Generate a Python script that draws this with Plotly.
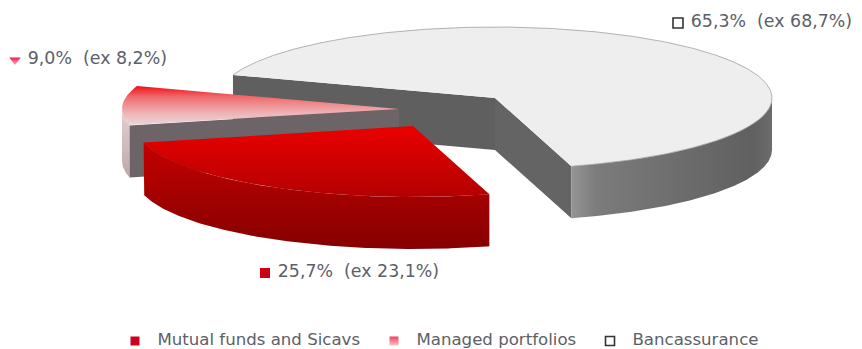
import numpy as np
import plotly.graph_objects as go

# Distribution by channel, current and previous period (%)
categories = ["Mutual funds and Sicavs", "Managed portfolios", "Bancassurance"]
current = [25.7, 9.0, 65.3]
previous = [23.1, 8.2, 68.7]

# Ellipse geometry of the tilted pie, in pixels of the plotting area
RX, RY, DEPTH = 277, 71, 52
FIRST_ANGLE = -74  # where the first slice begins; slices run clockwise
CENTERS = {
    "Mutual funds and Sicavs": (413, 126),
    "Managed portfolios": (399, 109),
    "Bancassurance": (495, 98),
}


def rim(center, a0, a1, drop=0):
    """Points along the ellipse between two angles in degrees."""
    steps = max(int(abs(a1 - a0)) * 2, 2)
    t = np.radians(np.linspace(a0, a1, steps))
    return center[0] + RX * np.cos(t), center[1] - RY * np.sin(t) + drop


def poly(x, y, gradient=None, fill=None):
    kw = dict(
        x=list(x), y=list(y), mode="lines", fill="toself",
        line=dict(width=0, color="rgba(0,0,0,0)"),
        hoverinfo="skip", showlegend=False,
    )
    if gradient:
        kw["fillgradient"] = dict(type=gradient[0], colorscale=gradient[1])
    else:
        kw["fillcolor"] = fill
    return go.Scatter(**kw)


def outer_wall(center, a0, a1, gradient):
    x, y = rim(center, a0, a1)
    xb, yb = rim(center, a0, a1, DEPTH)
    return poly(np.r_[x, xb[::-1]], np.r_[y, yb[::-1]], gradient=gradient)


def cut_wall(center, angle, fill):
    x, y = rim(center, angle, angle)
    px, py = x[0], y[0]
    cx, cy = center
    return poly([cx, px, px, cx], [cy, py, py + DEPTH, cy + DEPTH], fill=fill)


def top_face(center, a0, a1, **style):
    x, y = rim(center, a0, a1)
    return poly(np.r_[center[0], x, center[0]], np.r_[center[1], y, center[1]], **style)


# Angular extent of each slice, derived from its share
spans = {}
angle = FIRST_ANGLE
for name, share in zip(categories, current):
    spans[name] = (angle, angle - share * 3.6)
    angle -= share * 3.6

fig = go.Figure()

# Bancassurance sits at the back
c = CENTERS["Bancassurance"]
a0, a1 = spans["Bancassurance"]
fig.add_trace(cut_wall(c, a0, "#5f5f5f"))
fig.add_trace(cut_wall(c, a1, "#646464"))
fig.add_trace(outer_wall(c, a1 + 360, 0, ("horizontal", [
    [0, "#959595"], [0.12, "#7c7c7c"], [0.5, "#6e6e6e"],
    [0.9, "#606060"], [1, "#6c6c6c"]])))
fig.add_trace(top_face(c, a0, a1, fill="#eeeeee"))
edge_x, edge_y = rim(c, a0, a1)
fig.add_trace(go.Scatter(x=list(edge_x), y=list(edge_y), mode="lines",
                         line=dict(width=0.8, color="#a0a0a0"),
                         hoverinfo="skip", showlegend=False))

# Managed portfolios
c = CENTERS["Managed portfolios"]
a0, a1 = spans["Managed portfolios"]
fig.add_trace(outer_wall(c, a0, -180, ("vertical", [
    [0, "#c0a6aa"], [1, "#e4cfd2"]])))
fig.add_trace(cut_wall(c, a0, "#6c6466"))
fig.add_trace(top_face(c, a0, a1, gradient=("vertical", [
    [0, "#ead6d8"], [0.3, "#eeb4b6"], [0.72, "#f06a6c"], [1, "#ee0f16"]])))

# Mutual funds in front; the top face fades into the wall below it
c = CENTERS["Mutual funds and Sicavs"]
a0, a1 = spans["Mutual funds and Sicavs"]
fig.add_trace(outer_wall(c, a0, a1, ("vertical", [
    [0, "#860000"], [0.45, "#a00000"], [0.8, "#b80000"], [1, "#c00000"]])))
fig.add_trace(top_face(c, a0, a1, gradient=("vertical", [
    [0, "#b40000"], [0.45, "#cc0000"], [1, "#ea0000"]])))


def pct(v):
    return f"{v:.1f}".replace(".", ",") + "%"


def keyed_text(px, py, text, symbol, color, size, gradient=None, font_size=17.4, font="DejaVu Sans"):
    marker = dict(symbol=symbol, size=size, color=color)
    if symbol.endswith("-open"):
        marker["line"] = dict(width=1.6, color=color)
    if gradient:
        marker["gradient"] = dict(type="vertical", color=gradient)
    fig.add_trace(go.Scatter(
        x=[px], y=[py], mode="markers+text", text=[text], textposition="middle right",
        marker=marker, textfont=dict(family=font, size=font_size, color="#5c6068"),
        hoverinfo="skip", showlegend=False,
    ))


# Callouts next to the slices
slice_styles = {
    "Mutual funds and Sicavs": (265, 273, "square", "#cc0010", 10, None),
    "Managed portfolios": (15, 60, "triangle-down", "#f01850", 10, "#ffb0c0"),
    "Bancassurance": (678, 23, "square-open", "#333333", 10, None),
}
for name, now, before in zip(categories, current, previous):
    px, py, sym, col, sz, grad = slice_styles[name]
    keyed_text(px, py, f" {pct(now)}  (ex {pct(before)})", sym, col, sz, grad)

# Legend row along the bottom
legend_styles = {
    "Mutual funds and Sicavs": (135, "square", "#cc0020", 9, None),
    "Managed portfolios": (394, "square", "#f04060", 9, "#ffc0c8"),
    "Bancassurance": (610, "square-open", "#333333", 9, None),
}
for name in categories:
    px, sym, col, sz, grad = legend_styles[name]
    keyed_text(px, 341, "   " + name, sym, col, sz, grad, font_size=16.6)

fig.update_layout(
    width=862, height=349, margin=dict(l=0, r=0, t=0, b=0),
    paper_bgcolor="white", plot_bgcolor="white",
    xaxis=dict(range=[0, 862], visible=False, fixedrange=True),
    yaxis=dict(range=[349, 0], visible=False, fixedrange=True),
)
fig.write_html("out.html", config=dict(displayModeBar=False))
